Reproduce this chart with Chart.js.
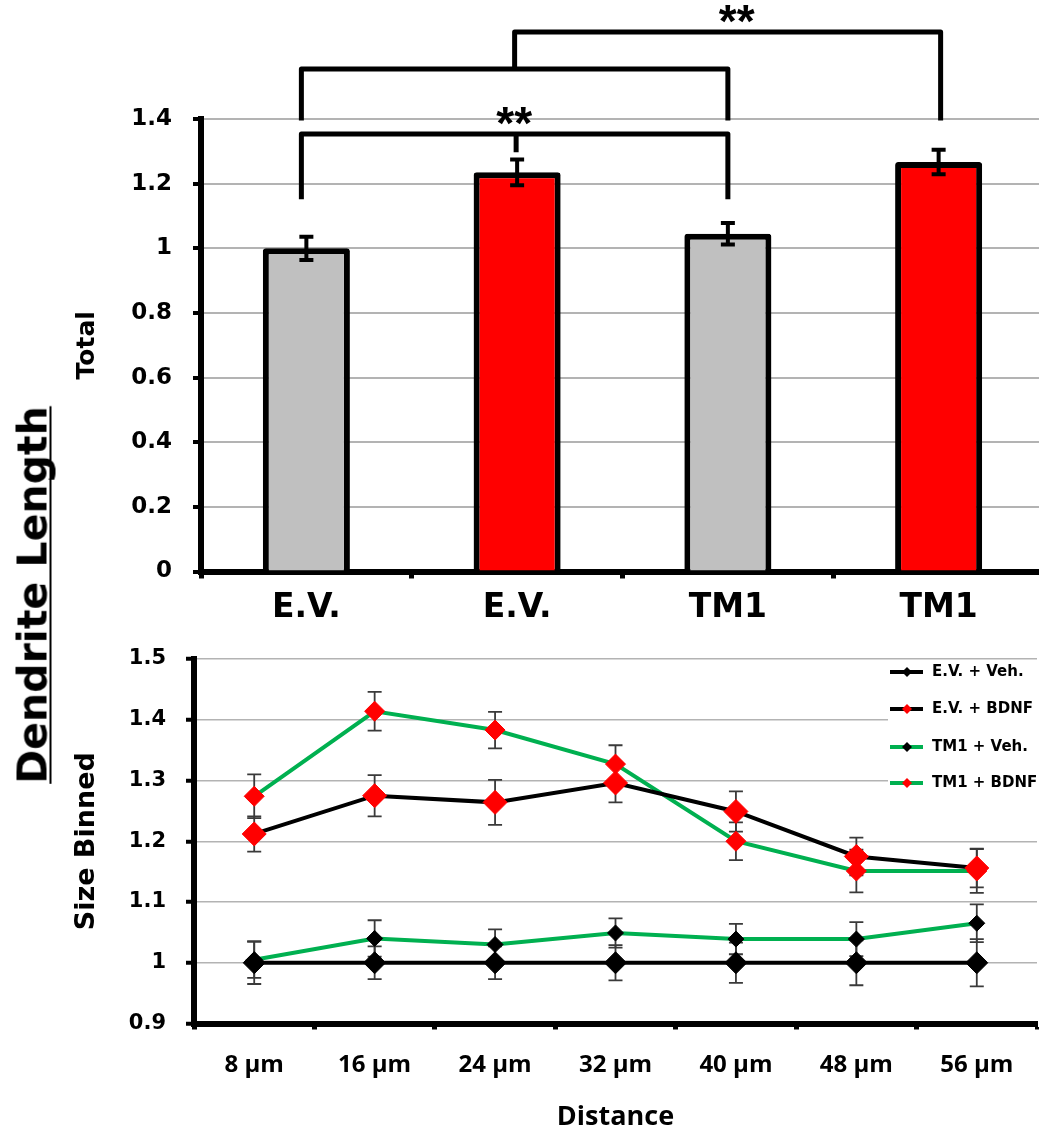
<!DOCTYPE html>
<html>
<head>
<meta charset="utf-8">
<script src="https://cdn.jsdelivr.net/npm/chart.js@4.4.1/dist/chart.umd.min.js"></script>
<style>
html,body{margin:0;padding:0;background:#fff;overflow:hidden;width:1039px;height:1139px;}
#wrap{position:relative;width:1039px;height:1139px;overflow:hidden;background:#fff;}
#topChart{position:absolute;left:0;top:0;}
#botChart{position:absolute;left:0;top:640px;}
#ylab{position:absolute;left:32.5px;top:595px;transform:translate(-50%,-50%) rotate(-90deg);
 font-family:"DejaVu Sans";font-weight:bold;font-size:41px;line-height:41px;white-space:nowrap;color:#000;
 text-decoration:underline;text-decoration-thickness:2px;text-underline-offset:3px;text-decoration-skip-ink:none;}
</style>
</head>
<body>
<div id="wrap">
<canvas id="topChart" width="1050" height="650"></canvas>
<canvas id="botChart" width="1050" height="500"></canvas>
<div id="ylab">Dendrite Length</div>
</div>
<script>
// ---------- DATA ----------
const topCategories = ['E.V.', 'E.V.', 'TM1', 'TM1'];
const topValues = [1.0, 1.235, 1.045, 1.267];
const topErrors = [0.036, 0.040, 0.033, 0.038];
const topTickLabels = ['0', '0.2', '0.4', '0.6', '0.8', '1', '1.2', '1.4'];

const distLabels = ['8 μm', '16 μm', '24 μm', '32 μm', '40 μm', '48 μm', '56 μm'];
const evVeh = [1.0, 1.0, 1.0, 1.0, 1.0, 1.0, 1.0];
const evVehErr = [0.035, 0.027, 0.027, 0.029, 0.033, 0.037, 0.039];
const evBdnf = [1.212, 1.275, 1.264, 1.296, 1.249, 1.175, 1.156];
const evBdnfErr = [0.029, 0.034, 0.037, 0.032, 0.033, 0.031, 0.032];
const tm1Veh = [1.005, 1.040, 1.030, 1.049, 1.039, 1.039, 1.065];
const tm1VehErr = [0.030, 0.030, 0.025, 0.024, 0.025, 0.028, 0.031];
const tm1Bdnf = [1.274, 1.414, 1.383, 1.327, 1.200, 1.151, 1.151];
const tm1BdnfErr = [0.036, 0.032, 0.030, 0.031, 0.031, 0.035, 0.036];
const botTickLabels = ['0.9', '1', '1.1', '1.2', '1.3', '1.4', '1.5'];
const seriesNames = ['E.V. + Veh.', 'E.V. + BDNF', 'TM1 + Veh.', 'TM1 + BDNF'];

// ---------- STYLE ----------
const GRAY = '#c0c0c0', RED = '#ff0000', GREEN = '#00b050', BLACK = '#000000';
const GRID = '#b3b3b3';
const barFill = [GRAY, RED, GRAY, RED];
// significance annotation levels (in axis units)
const sig = {aBar: 1.3535, aLeg: 1.152, aMid: 1.297, aStar: 1.395,
             bBar: 1.555, bLeg: 1.395, cBar: 1.669, cLeg: 1.395, cStar: 1.71};

function drawErr(ctx, x, v, e, scale, capHalf) {
  const yt = scale.getPixelForValue(v + e), yb = scale.getPixelForValue(v - e);
  ctx.beginPath();
  ctx.moveTo(x, yt); ctx.lineTo(x, yb);
  ctx.moveTo(x - capHalf, yt); ctx.lineTo(x + capHalf, yt);
  ctx.moveTo(x - capHalf, yb); ctx.lineTo(x + capHalf, yb);
  ctx.stroke();
}

// ---------- TOP CHART ----------
const topPlugin = {
  id: 'topExtras',
  afterDatasetsDraw(chart) {
    const ctx = chart.ctx, ys = chart.scales.y, meta = chart.getDatasetMeta(0);
    ctx.save();
    ctx.strokeStyle = BLACK; ctx.lineWidth = 4; ctx.lineCap = 'butt';
    topValues.forEach((v, i) => drawErr(ctx, meta.data[i].x, v, topErrors[i], ys, 7));
    ctx.restore();
  },
  afterDraw(chart) {
    const ctx = chart.ctx, ys = chart.scales.y, xs = chart.scales.x;
    const c = topCategories.map((_, i) => xs.getPixelForValue(i));
    const Y = v => ys.getPixelForValue(v);
    const l0 = c[0] - 5;
    ctx.save();
    ctx.strokeStyle = BLACK; ctx.lineWidth = 5; ctx.lineJoin = 'round'; ctx.lineCap = 'butt';
    // bracket A
    ctx.beginPath();
    ctx.moveTo(l0, Y(sig.aLeg)); ctx.lineTo(l0, Y(sig.aBar)); ctx.lineTo(c[2], Y(sig.aBar)); ctx.lineTo(c[2], Y(sig.aLeg));
    ctx.moveTo(c[1] - 1, Y(sig.aBar)); ctx.lineTo(c[1] - 1, Y(sig.aMid));
    ctx.stroke();
    // bracket B
    ctx.beginPath();
    ctx.moveTo(l0, Y(sig.bLeg)); ctx.lineTo(l0, Y(sig.bBar)); ctx.lineTo(c[2], Y(sig.bBar)); ctx.lineTo(c[2], Y(sig.bLeg));
    ctx.stroke();
    // bracket C
    const mB = (l0 + c[2]) / 2;
    ctx.beginPath();
    ctx.moveTo(mB, Y(sig.bBar)); ctx.lineTo(mB, Y(sig.cBar)); ctx.lineTo(c[3] + 2, Y(sig.cBar)); ctx.lineTo(c[3] + 2, Y(sig.cLeg));
    ctx.stroke();
    // stars
    const fs = 46;
    ctx.fillStyle = BLACK; ctx.font = 'bold ' + fs + 'px "Liberation Sans"';
    ctx.textAlign = 'center'; ctx.textBaseline = 'alphabetic';
    ctx.fillText('**', c[1] - 3, Y(sig.aStar) + 0.39 * fs);
    ctx.fillText('**', (mB + c[3]) / 2 + 10, Y(sig.cStar) + 0.39 * fs);
    ctx.restore();
  }
};

new Chart(document.getElementById('topChart'), {
  type: 'bar',
  data: {
    labels: topCategories,
    datasets: [{
      label: 'Total',
      data: topValues,
      backgroundColor: barFill,
      borderColor: BLACK,
      borderWidth: 6,
      borderRadius: 3,
      borderSkipped: 'start',
      categoryPercentage: 1.0,
      barPercentage: 0.413
    }]
  },
  options: {
    responsive: false, animation: false, devicePixelRatio: 1,
    layout: {padding: {left: 0, right: 6, top: 119, bottom: 0}},
    plugins: {legend: {display: false}, tooltip: {enabled: false}},
    scales: {
      x: {
        offset: true,
        afterFit(s) { s.height = 78.5; },
        grid: {offset: true, drawOnChartArea: false, drawTicks: true, tickLength: 7, tickWidth: 5, tickColor: BLACK},
        border: {display: true, color: BLACK, width: 6},
        ticks: {color: BLACK, padding: 10.5, font: {family: 'DejaVu Sans', weight: 'bold', size: 33}, maxRotation: 0, autoSkip: false}
      },
      y: {
        min: 0, max: 1.4,
        afterFit(s) { s.width = 201; },
        afterBuildTicks(s) { s.ticks = topTickLabels.map(t => ({value: parseFloat(t)})); },
        grid: {color: GRID, lineWidth: 2, drawTicks: true, tickLength: 8, tickWidth: 4, tickColor: BLACK},
        border: {display: true, color: BLACK, width: 6},
        ticks: {color: BLACK, padding: 21, font: {family: 'DejaVu Sans', weight: 'bold', size: 23},
                callback: (v, i) => topTickLabels[i]},
        title: {display: true, text: 'Total', color: BLACK, padding: {top: 72, bottom: 0},
                font: {family: 'DejaVu Sans', weight: 'bold', size: 25}}
      }
    }
  },
  plugins: [topPlugin]
});

// ---------- BOTTOM CHART ----------
const botErrors = [evVehErr, evBdnfErr, tm1VehErr, tm1BdnfErr];
const botPlugin = {
  id: 'botExtras',
  beforeDatasetsDraw(chart) {
    const ctx = chart.ctx, ys = chart.scales.y;
    ctx.save();
    ctx.strokeStyle = '#3a3a3a'; ctx.lineWidth = 1.8;
    chart.data.datasets.forEach((ds, di) => {
      const meta = chart.getDatasetMeta(di);
      ds.data.forEach((v, i) => drawErr(ctx, meta.data[i].x, v, botErrors[di][i], ys, 7));
    });
    ctx.restore();
  },
  afterDraw(chart) {
    const ctx = chart.ctx;
    ctx.save();
    ctx.fillStyle = '#ffffff';
    ctx.fillRect(888, 21, 170, 140);
    const rows = [32, 69, 107, 143];
    chart.data.datasets.forEach((ds, i) => {
      const y = rows[i];
      ctx.strokeStyle = ds.borderColor; ctx.lineWidth = 4;
      ctx.beginPath(); ctx.moveTo(890, y); ctx.lineTo(923, y); ctx.stroke();
      const r = 5;
      ctx.fillStyle = ds.pointBackgroundColor;
      ctx.beginPath(); ctx.moveTo(907 - r, y); ctx.lineTo(907, y - r); ctx.lineTo(907 + r, y); ctx.lineTo(907, y + r); ctx.closePath(); ctx.fill();
      ctx.fillStyle = BLACK; ctx.font = 'bold 15px "DejaVu Sans"';
      ctx.textAlign = 'left'; ctx.textBaseline = 'middle';
      ctx.fillText(ds.label, 932, y);
    });
    ctx.restore();
  }
};

function lineDs(label, data, lineColor, pointColor, radius) {
  return {label, data, borderColor: lineColor, borderWidth: 4, tension: 0,
    pointStyle: 'rectRot', pointRadius: radius, pointBackgroundColor: pointColor,
    pointBorderColor: pointColor, pointBorderWidth: 1, fill: false};
}

new Chart(document.getElementById('botChart'), {
  type: 'line',
  data: {
    labels: distLabels,
    datasets: [
      lineDs(seriesNames[0], evVeh, BLACK, BLACK, 11),
      lineDs(seriesNames[1], evBdnf, BLACK, RED, 12),
      lineDs(seriesNames[2], tm1Veh, GREEN, BLACK, 8),
      lineDs(seriesNames[3], tm1Bdnf, GREEN, RED, 10)
    ]
  },
  options: {
    responsive: false, animation: false, devicePixelRatio: 1,
    layout: {padding: {left: 0, right: 8, top: 19, bottom: 0}},
    plugins: {legend: {display: false}, tooltip: {enabled: false}},
    scales: {
      x: {
        offset: true,
        afterFit(s) { s.height = 116.5; s.paddingLeft = 0; s.paddingRight = 0; },
        grid: {offset: true, drawOnChartArea: false, drawTicks: true, tickLength: 6, tickWidth: 5, tickColor: BLACK},
        border: {display: true, color: BLACK, width: 6},
        ticks: {color: BLACK, padding: 21, font: {family: 'Open Sans', weight: 'bold', size: 24}, maxRotation: 0, autoSkip: false},
        title: {display: true, text: 'Distance', color: BLACK, padding: {top: 0, bottom: 6},
                font: {family: 'Open Sans', weight: 'bold', size: 27}}
      },
      y: {
        min: 0.9, max: 1.5,
        afterFit(s) { s.width = 194; s.paddingTop = 0; s.paddingBottom = 0; },
        afterBuildTicks(s) { s.ticks = botTickLabels.map(t => ({value: parseFloat(t)})); },
        grid: {color: GRID, lineWidth: 1.5, drawTicks: true, tickLength: 8, tickWidth: 4, tickColor: BLACK},
        border: {display: true, color: BLACK, width: 6},
        ticks: {color: BLACK, padding: 20, font: {family: 'DejaVu Sans', weight: 'bold', size: 21},
                callback: (v, i) => botTickLabels[i]},
        title: {display: true, text: 'Size Binned', color: BLACK, padding: {top: 71, bottom: 0},
                font: {family: 'DejaVu Sans', weight: 'bold', size: 27}}
      }
    }
  },
  plugins: [botPlugin]
});
</script>
</body>
</html>
